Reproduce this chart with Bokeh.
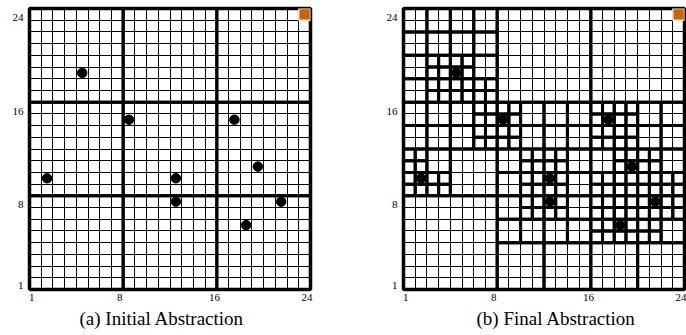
from bokeh.plotting import figure
from bokeh.models import FixedTicker, Title
from bokeh.layouts import row
from bokeh.embed import file_html
from bokeh.resources import INLINE

# ---------------- data ----------------
GRID_N = 24
tick_labels = ["1", "8", "16", "24"]

# states marked with dots (cell centres)
dot_x = [4.5, 8.5, 17.5, 1.5, 12.5, 19.5, 12.5, 21.5, 18.5]
dot_y = [18.5, 14.5, 14.5, 9.5, 9.5, 10.5, 7.5, 7.5, 5.5]
goal_x = [23.5]
goal_y = [23.5]

# initial abstraction: 8x8 blocks (lower-left corners)
init_x = [0, 8, 16, 0, 8, 16, 0, 8, 16]
init_y = [0, 0, 0, 8, 8, 8, 16, 16, 16]
init_size = 8

# final abstraction (lower-left corners); remaining area = 2x2 blocks
final_8x8 = [(8, 16), (16, 16), (0, 0)]
final_4x4 = [(4, 8), (8, 0), (12, 0), (16, 0), (20, 0)]
final_1x1_in_2x2 = [(2, 16), (4, 16), (6, 16), (2, 18), (4, 18),
                    (6, 14), (6, 12), (8, 14), (8, 12),
                    (0, 10), (0, 8), (2, 8),
                    (10, 10), (12, 10), (10, 8), (12, 8), (10, 6), (12, 6),
                    (16, 14), (18, 14), (16, 12), (18, 12),
                    (18, 10), (20, 10),
                    (16, 8), (18, 8), (20, 8), (22, 8),
                    (16, 6), (18, 6), (20, 6), (22, 6),
                    (16, 4), (18, 4), (20, 4)]

captions = ["(a) Initial Abstraction", "(b) Final Abstraction"]

# ---------------- helpers ----------------
FONT = "Liberation Serif"


def final_rects():
    L, R, B, T = [], [], [], []
    covered = set()
    for (x, y) in final_8x8:
        L.append(x); R.append(x + 8); B.append(y); T.append(y + 8)
        for i in range(x, x + 8, 2):
            for j in range(y, y + 8, 2):
                covered.add((i, j))
    for (x, y) in final_4x4:
        L.append(x); R.append(x + 4); B.append(y); T.append(y + 4)
        for i in range(x, x + 4, 2):
            for j in range(y, y + 4, 2):
                covered.add((i, j))
    for (x, y) in final_1x1_in_2x2:
        covered.add((x, y))
        for i in range(x, x + 2):
            for j in range(y, y + 2):
                L.append(i); R.append(i + 1); B.append(j); T.append(j + 1)
    for i in range(0, GRID_N, 2):
        for j in range(0, GRID_N, 2):
            if (i, j) not in covered:
                L.append(i); R.append(i + 2); B.append(j); T.append(j + 2)
    return L, R, B, T


def panel(width, border_left, border_right, caption, cap_offset, rects):
    p = figure(width=width, height=335, x_range=(0, GRID_N), y_range=(0, GRID_N),
               output_backend="svg", toolbar_location=None,
               min_border_left=border_left, min_border_right=border_right,
               min_border_top=8, min_border_bottom=46)
    p.background_fill_color = "white"
    p.border_fill_color = "white"
    p.outline_line_color = "black"
    p.outline_line_width = 3.5

    cells = list(range(GRID_N + 1))
    for g in (p.xgrid, p.ygrid):
        g.ticker = FixedTicker(ticks=cells)
        g.grid_line_color = "black"
        g.grid_line_width = 1
        g.grid_line_alpha = 1.0

    xt = [0.2, 7.7, 15.8, 23.7]
    yt = [0.34, 7.26, 15.2, 23.2]
    p.xaxis.ticker = FixedTicker(ticks=xt)
    p.yaxis.ticker = FixedTicker(ticks=yt)
    p.xaxis.major_label_overrides = {t: s for t, s in zip(xt, tick_labels)}
    p.yaxis.major_label_overrides = {t: s for t, s in zip(yt, tick_labels)}
    for ax in (p.xaxis, p.yaxis):
        ax.axis_line_color = None
        ax.major_tick_line_color = None
        ax.minor_tick_line_color = None
        ax.major_tick_out = 0
        ax.major_tick_in = 0
        ax.major_label_text_font = FONT
        ax.major_label_text_font_size = "11px"
        ax.major_label_text_color = "black"
    p.xaxis.major_label_standoff = 4
    p.yaxis.major_label_standoff = 6

    L, R, B, T = rects
    p.quad(left=L, right=R, bottom=B, top=T, fill_color=None,
           line_color="black", line_width=3)

    p.rect(x=goal_x, y=goal_y, width=1, height=1, fill_color="#c86408",
           line_color="#e6e6e6", line_width=1.5)
    p.scatter(x=dot_x, y=dot_y, size=9.5, color="black")

    t = Title(text=caption, align="left", offset=cap_offset, text_font=FONT,
              text_font_size="19px", text_font_style="normal",
              text_color="black", standoff=5)
    p.add_layout(t, "below")
    return p


init_rects = ([x for x in init_x], [x + init_size for x in init_x],
              [y for y in init_y], [y + init_size for y in init_y])

pa = panel(343, 29, 33, captions[0], 50, init_rects)
pb = panel(343, 60, 2, captions[1], 73, final_rects())

layout = row(pa, pb)
open("out.html", "w").write(file_html(layout, INLINE))
